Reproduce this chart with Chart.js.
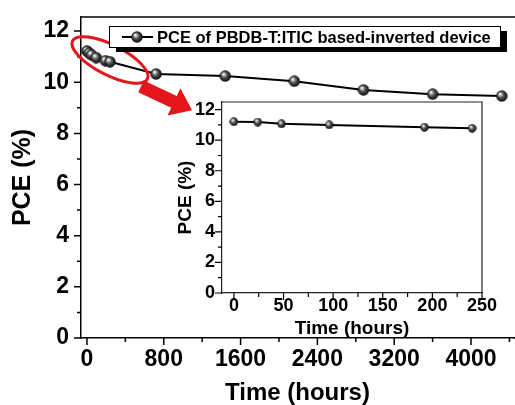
<!DOCTYPE html>
<html>
<head>
<meta charset="utf-8">
<script src="https://cdn.jsdelivr.net/npm/chart.js@4.4.1/dist/chart.umd.min.js"></script>
<style>
  html, body { margin: 0; padding: 0; background: #fff; overflow: hidden; }
  #wrap { position: relative; width: 515px; height: 405px; }
  #graph01 { position: absolute; left: 0; top: 0; }
  #graph02 { position: absolute; left: 160px; top: 95px; }
</style>
</head>
<body>
<div id="wrap">
  <canvas id="graph01" width="515" height="405"></canvas>
  <canvas id="graph02" width="350" height="245"></canvas>
</div>
<script>
// data
const mainHours = [0, 24, 48, 96, 192, 240, 720, 1440, 2160, 2880, 3600, 4320];
const mainPce = [11.22, 11.14, 11.07, 10.96, 10.84, 10.8, 10.32, 10.24, 10.04, 9.7, 9.53, 9.46];
const insetHours = [0, 24, 48, 96, 192, 240];
const insetPce = [11.21, 11.19, 11.07, 11.0, 10.85, 10.78];

// tick positions (all marks) and the labelled ones
const mainXTickMarks = [0, 400, 800, 1200, 1600, 2000, 2400, 2800, 3200, 3600, 4000, 4400];
const mainXTicks = [0, 800, 1600, 2400, 3200, 4000];
const yTickMarks = [0, 1, 2, 3, 4, 5, 6, 7, 8, 9, 10, 11, 12];
const yTickLabels = [0, 2, 4, 6, 8, 10, 12];
const insetXTickMarks = [0, 25, 50, 75, 100, 125, 150, 175, 200, 225, 250];
const insetXTicks = [0, 50, 100, 150, 200, 250];
const legendText = "PCE of PBDB-T:ITIC based-inverted device";

const FONT = "'Liberation Sans', Arial, sans-serif";

function makeBall(d) {
  const c = document.createElement("canvas");
  c.width = d;
  c.height = d;
  const g = c.getContext("2d");
  const r = d / 2;
  const grad = g.createRadialGradient(r * 0.7, r * 0.65, r * 0.1, r, r, r);
  grad.addColorStop(0, "#f2f2f2");
  grad.addColorStop(0.45, "#505050");
  grad.addColorStop(1, "#000");
  g.fillStyle = grad;
  g.beginPath();
  g.arc(r, r, r - 0.3, 0, Math.PI * 2);
  g.fill();
  return c;
}
const bigBall = makeBall(12);
const smallBall = makeBall(9);

const setTicks = (list) => (s) => { s.ticks = list.map((v) => ({ value: v })); };
// fixed axis box, no extra room for overhanging labels
const fixSize = (dim, n) => (s) => {
  s[dim] = n;
  s.paddingTop = 0;
  s.paddingBottom = 0;
  s.paddingLeft = 0;
  s.paddingRight = 0;
};

// tick marks: long on labelled ticks, short in between
function drawTicks(ctx, scale, labelled, width) {
  ctx.strokeStyle = "#000";
  ctx.lineWidth = width;
  ctx.beginPath();
  scale.ticks.forEach((t) => {
    const len = labelled.includes(t.value) ? 7 : 4;
    const p = scale.getPixelForValue(t.value);
    if (scale.isHorizontal()) {
      ctx.moveTo(p, scale.top);
      ctx.lineTo(p, scale.top + len);
    } else {
      ctx.moveTo(scale.right, p);
      ctx.lineTo(scale.right - len, p);
    }
  });
  ctx.stroke();
}

const mainDecor = {
  id: "mainDecor",
  afterDraw(chart) {
    const { ctx, chartArea: a } = chart;
    const x = chart.scales.x;
    const y = chart.scales.y;
    ctx.save();
    ctx.strokeStyle = "#000";
    ctx.lineWidth = 1.5;
    ctx.beginPath();
    ctx.moveTo(a.left, a.top);
    ctx.lineTo(chart.width, a.top);
    ctx.moveTo(a.right, a.bottom);
    ctx.lineTo(chart.width, a.bottom);
    ctx.stroke();
    drawTicks(ctx, x, mainXTicks, 1.5);
    drawTicks(ctx, y, yTickLabels, 1.5);

    // red ellipse round the first week
    ctx.strokeStyle = "#e3161d";
    ctx.lineWidth = 3;
    ctx.beginPath();
    ctx.ellipse(x.getPixelForValue(240), y.getPixelForValue(10.87), 42, 15, (27 * Math.PI) / 180, 0, Math.PI * 2);
    ctx.stroke();

    // red arrow pointing at the inset
    const sx = x.getPixelForValue(563), sy = y.getPixelForValue(9.84);
    const tx = x.getPixelForValue(1095), ty = y.getPixelForValue(8.9);
    const len = Math.hypot(tx - sx, ty - sy);
    const ux = (tx - sx) / len, uy = (ty - sy) / len;
    const nx = -uy, ny = ux;
    const bx = tx - ux * 20, by = ty - uy * 20;
    ctx.fillStyle = "#e3161d";
    ctx.beginPath();
    ctx.moveTo(sx + nx * 6.5, sy + ny * 6.5);
    ctx.lineTo(bx + nx * 6.5, by + ny * 6.5);
    ctx.lineTo(bx + nx * 15, by + ny * 15);
    ctx.lineTo(tx, ty);
    ctx.lineTo(bx - nx * 15, by - ny * 15);
    ctx.lineTo(bx - nx * 6.5, by - ny * 6.5);
    ctx.lineTo(sx - nx * 6.5, sy - ny * 6.5);
    ctx.closePath();
    ctx.fill();

    // legend box with drop shadow
    const lx = a.left + 28, ly = a.top + 9, lw = a.right - 14 - lx, lh = 21;
    ctx.fillStyle = "#000";
    ctx.fillRect(lx + 7, ly + 5, lw, lh);
    ctx.fillStyle = "#fff";
    ctx.fillRect(lx, ly, lw, lh);
    ctx.lineWidth = 1;
    ctx.strokeStyle = "#000";
    ctx.strokeRect(lx + 0.5, ly + 0.5, lw, lh);
    const my = ly + lh / 2 + 0.5;
    ctx.lineWidth = 2;
    ctx.beginPath();
    ctx.moveTo(lx + 13, my);
    ctx.lineTo(lx + 44, my);
    ctx.stroke();
    ctx.drawImage(bigBall, lx + 28 - 6, my - 6);
    ctx.fillStyle = "#000";
    ctx.font = "bold 16.5px " + FONT;
    ctx.textBaseline = "middle";
    ctx.textAlign = "left";
    ctx.fillText(legendText, lx + 48, my + 1);
    ctx.restore();
  },
};

const insetDecor = {
  id: "insetDecor",
  afterDraw(chart) {
    const { ctx, chartArea: a } = chart;
    ctx.save();
    ctx.strokeStyle = "#222";
    ctx.lineWidth = 1.2;
    ctx.beginPath();
    ctx.moveTo(a.left, a.top);
    ctx.lineTo(a.right, a.top);
    ctx.lineTo(a.right, a.bottom);
    ctx.stroke();
    drawTicks(ctx, chart.scales.x, insetXTicks, 1.2);
    drawTicks(ctx, chart.scales.y, yTickLabels, 1.2);
    ctx.restore();
  },
};

const myChart01 = new Chart(document.getElementById("graph01"), {
  type: "line",
  data: {
    datasets: [
      {
        label: legendText,
        data: mainHours.map((h, i) => ({ x: h, y: mainPce[i] })),
        borderColor: "#000",
        borderWidth: 2,
        pointStyle: bigBall,
        pointRadius: 6,
        clip: false,
      },
    ],
  },
  options: {
    responsive: false,
    animation: false,
    events: [],
    layout: { autoPadding: false, padding: { left: 0, top: 17, right: 1, bottom: 0 } },
    plugins: { legend: { display: false }, tooltip: { enabled: false } },
    scales: {
      x: {
        type: "linear",
        min: -62,
        max: 4448,
        afterBuildTicks: setTicks(mainXTickMarks),
        afterFit: fixSize("height", 67),
        border: { color: "#000", width: 1.5 },
        grid: { drawOnChartArea: false, drawTicks: false },
        ticks: {
          autoSkip: false,
          maxRotation: 0,
          padding: 8,
          color: "#000",
          font: { family: FONT, size: 23, weight: "bold" },
          callback: (v) => (mainXTicks.includes(v) ? String(v) : ""),
        },
        title: {
          display: true,
          text: "Time (hours)",
          color: "#000",
          font: { family: FONT, size: 24, weight: "bold", lineHeight: 1 },
          padding: { top: 0, bottom: 0 },
        },
      },
      y: {
        type: "linear",
        min: 0,
        max: 12.55,
        afterBuildTicks: setTicks(yTickMarks),
        afterFit: fixSize("width", 81),
        border: { color: "#000", width: 1.5 },
        grid: { drawOnChartArea: false, drawTicks: false },
        ticks: {
          autoSkip: false,
          padding: 12,
          color: "#000",
          font: { family: FONT, size: 23, weight: "bold" },
          callback: (v) => (yTickLabels.includes(v) ? String(v) : ""),
        },
        title: {
          display: true,
          text: "PCE (%)",
          color: "#000",
          font: { family: FONT, size: 25, weight: "bold", lineHeight: 1.2 },
          padding: { top: 8, bottom: 0 },
        },
      },
    },
  },
  plugins: [mainDecor],
});

const myChart02 = new Chart(document.getElementById("graph02"), {
  type: "line",
  data: {
    datasets: [
      {
        label: "inset",
        data: insetHours.map((h, i) => ({ x: h, y: insetPce[i] })),
        borderColor: "#000",
        borderWidth: 2,
        pointStyle: smallBall,
        pointRadius: 5,
        clip: false,
      },
    ],
  },
  options: {
    responsive: false,
    animation: false,
    events: [],
    layout: { autoPadding: false, padding: { left: 0, top: 7, right: 28, bottom: 0 } },
    plugins: { legend: { display: false }, tooltip: { enabled: false } },
    scales: {
      x: {
        type: "linear",
        min: -12,
        max: 250,
        afterBuildTicks: setTicks(insetXTickMarks),
        afterFit: fixSize("height", 47),
        border: { color: "#222", width: 1.2 },
        grid: { drawOnChartArea: false, drawTicks: false },
        ticks: {
          autoSkip: false,
          maxRotation: 0,
          padding: 2,
          color: "#000",
          font: { family: FONT, size: 18, weight: "bold" },
          callback: (v) => (insetXTicks.includes(v) ? String(v) : ""),
        },
        title: {
          display: true,
          text: "Time (hours)",
          color: "#000",
          font: { family: FONT, size: 19, weight: "bold", lineHeight: 1 },
          padding: { top: 0, bottom: 2 },
        },
      },
      y: {
        type: "linear",
        min: 0,
        max: 12.5,
        afterBuildTicks: setTicks(yTickMarks),
        afterFit: fixSize("width", 62),
        border: { color: "#222", width: 1.2 },
        grid: { drawOnChartArea: false, drawTicks: false },
        ticks: {
          autoSkip: false,
          padding: 7,
          color: "#000",
          font: { family: FONT, size: 18, weight: "bold" },
          callback: (v) => (yTickLabels.includes(v) ? String(v) : ""),
        },
        title: {
          display: true,
          text: "PCE (%)",
          color: "#000",
          font: { family: FONT, size: 19, weight: "bold", lineHeight: 1.2 },
          padding: { top: 14, bottom: 0 },
        },
      },
    },
  },
  plugins: [insetDecor],
});
</script>
</body>
</html>
